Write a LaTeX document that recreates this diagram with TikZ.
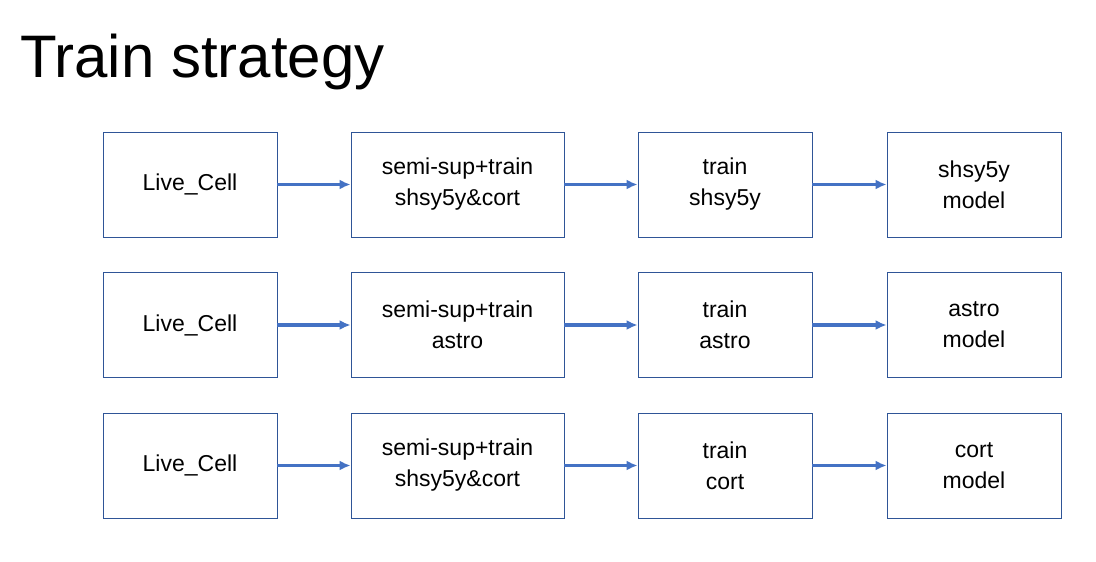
\documentclass[tikz,border=0pt]{standalone}
\usepackage{fontspec}
\setmainfont{Liberation Sans}
\usetikzlibrary{arrows.meta}
\definecolor{bord}{HTML}{2F5597}
\definecolor{arr}{HTML}{4472C4}
\begin{document}
\begin{tikzpicture}[x=1pt,y=-1pt,
  box/.style={draw=bord,line width=0.8pt,minimum height=105pt,align=center,font=\fontsize{23}{31}\selectfont,inner sep=0pt},
  w1/.style={box,minimum width=174pt},
  w2/.style={box,minimum width=213pt},
  ar/.style={draw=arr,line width=3.2pt,-{Latex[length=11pt,width=10pt]}}]
\useasboundingbox (0,0) rectangle (1096,562);
\node[anchor=base west,font=\fontsize{60}{70}\selectfont,inner sep=0pt] (title) at (20,77) {Train strategy};
\foreach \r/\y/\b/\c/\d in {1/184.5/shsy5y\&cort/shsy5y/shsy5y,2/325/astro/astro/astro,3/465.5/shsy5y\&cort/cort/cort}{
  \node[w1] (a\r) at (190,\y) {Live\_Cell};
  \node[w2] (b\r) at (457.5,\y) {semi-sup+train\\\b};
  \node[w1] (c\r) at (725,\y) {train\\\c};
  \node[w1] (d\r) at (974,\y) {\d\\model};
  \draw[ar] (a\r) -- (b\r);
  \draw[ar] (b\r) -- (c\r);
  \draw[ar] (c\r) -- (d\r);
}
\end{tikzpicture}
\end{document}
